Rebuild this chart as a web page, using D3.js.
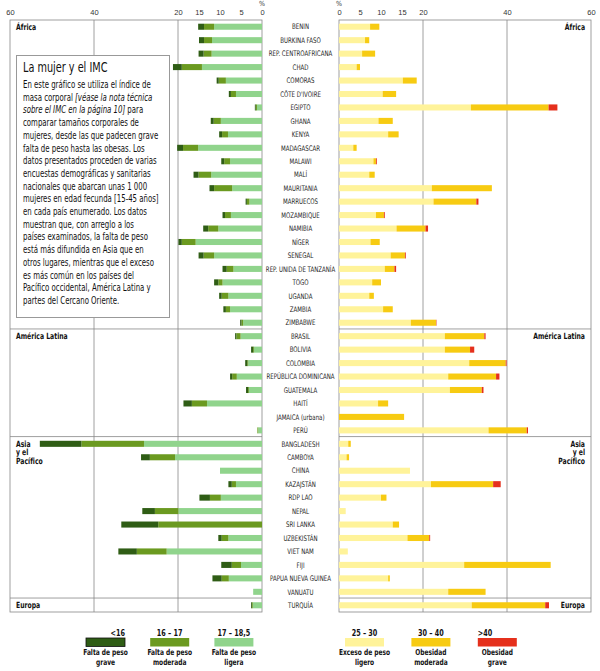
<!doctype html>
<html lang="es">
<head>
<meta charset="utf-8">
<title>La mujer y el IMC</title>
<style>
  body { margin: 0; background: #fff; }
  svg { display: block; font-family: "DejaVu Sans Condensed", "DejaVu Sans", sans-serif; }
  .tick text { fill: #333; font-size: 7.5px; }
</style>
</head>
<body>
<div id="chart"></div>
<script src="https://cdn.jsdelivr.net/npm/d3@7"></script>
<script>
// countries, top to bottom
var countries = ["BENIN","BURKINA FASO","REP. CENTROAFRICANA","CHAD","COMORAS","CÔTE D'IVOIRE","EGIPTO","GHANA","KENYA","MADAGASCAR","MALAWI","MALÍ","MAURITANIA","MARRUECOS","MOZAMBIQUE","NAMIBIA","NÍGER","SENEGAL","REP. UNIDA DE TANZANÍA","TOGO","UGANDA","ZAMBIA","ZIMBABWE",
  "BRASIL","BOLIVIA","COLOMBIA","REPÚBLICA DOMINICANA","GUATEMALA","HAITÍ","JAMAICA (urbana)","PERÚ",
  "BANGLADESH","CAMBOYA","CHINA","KAZAJSTÁN","RDP LAO","NEPAL","SRI LANKA","UZBEKISTÁN","VIET NAM","FIJI","PAPUA NUEVA GUINEA","VANUATU",
  "TURQUÍA"];
var regionNames = ["África","América Latina","Asia\ny el\nPacífico","Europa"];
var regionFirst = ["BENIN","BRASIL","BANGLADESH","TURQUÍA"];

// % of women, underweight (IMC <16, 16-17, 17-18.5)
var severe   = [1.4,1.2,1.2,2.1,0.5,0.5,0.2,0.7,0.7,1.4,0.7,1.2,1.1,0.3,0.6,1.2,0.8,1.2,1.0,1.0,0.6,0.6,0.3, 0.3,0.5,0.5,0.5,0.5,2.0,0,0, 9.9,2.1,0,0.8,2.5,3.0,8.8,0.8,4.4,2.5,2.2,0, 0.2];
var moderate = [2.4,1.9,1.9,4.8,1.7,1.2,0.3,1.7,1.4,3.6,1.4,3.0,4.3,0.6,1.4,2.4,3.3,2.5,1.6,1.0,1.6,1.0,0.4, 1.0,0.2,0.2,1.1,0.2,3.6,0,0.2, 14.9,6.0,0,1.0,2.6,5.6,24.7,1.6,7.1,2.2,1.7,0, 0.2];
var mild     = [11.4,11.9,12.0,14.3,8.6,6.2,1.2,9.8,8.1,15.2,7.6,12.1,7.1,3.0,7.4,10.4,15.8,11.4,6.8,9.4,8.0,7.6,4.5, 5.1,1.9,3.3,6.0,3.1,13.1,0,0.9, 28.1,20.7,10.0,6.2,9.8,19.9,0,8.0,22.7,5.0,7.9,2.1, 2.2];
// % of women, overweight (IMC 25-30, 30-40, >40)
var over     = [7.4,6.2,5.5,4.2,15.2,10.4,31.4,9.4,11.7,3.4,8.2,7.2,22.1,22.5,8.8,13.7,7.5,12.3,10.9,7.9,7.2,10.5,17.1, 25.2,25.2,31.0,26.0,26.4,9.3,0,35.6, 2.2,1.8,16.9,21.9,10.0,1.6,12.8,16.3,2.1,29.8,11.7,26.0, 31.6];
var obese    = [2.2,1.0,3.1,0.8,3.3,3.2,18.5,3.4,2.5,0.8,0.6,1.3,14.3,10.2,1.9,6.9,2.2,3.4,2.3,2.1,1.1,2.3,6.0, 9.4,6.0,8.7,11.4,7.6,2.4,15.5,9.1, 0.6,0.6,0,14.8,1.3,0,1.5,5.2,0,20.6,0.4,8.9, 17.5];
var obeseSev = [0,0,0,0,0,0,2.1,0,0,0,0.2,0,0,0.5,0.2,0.6,0,0.2,0.4,0,0,0,0.1, 0.3,1.0,0.2,0.8,0.4,0,0,0.3, 0,0,0,1.8,0,0,0,0.2,0,0,0,0, 0.9];

var leftTicks = [60,40,20,15,10,5,0];
var rightTicks = [0,5,10,15,20,40,60];
var gridTicks = [20,40];

var underKeys = ["severe","moderate","mild"];
var overKeys = ["over","obese","obeseSev"];
var underColors = ["#2f5d15","#6b9a20","#90d48c"];
var overColors = ["#fff39a","#f7cb12","#e5301c"];
var underLegend = [["<16","Falta de peso","grave"],["16  –  17","Falta de peso","moderada"],["17  –  18,5","Falta de peso","ligera"]];
var overLegend = [["25  –  30","Exceso de peso","ligero"],["30  –  40","Obesidad","moderada"],[">40","Obesidad","grave"]];

var introTitle = "La mujer y el IMC";
var introLines = [
  [["En este gráfico se utiliza el índice de", false]],
  [["masa corporal ", false], ["[véase la nota técnica", true]],
  [["sobre el IMC en la página 10]", true], [" para", false]],
  [["comparar tamaños corporales de", false]],
  [["mujeres, desde las que padecen grave", false]],
  [["falta de peso hasta las obesas. Los", false]],
  [["datos presentados proceden de varias", false]],
  [["encuestas demográficas y sanitarias", false]],
  [["nacionales que abarcan unas 1 000", false]],
  [["mujeres en edad fecunda [15-45 años]", false]],
  [["en cada país enumerado. Los datos", false]],
  [["muestran que, con arreglo a los", false]],
  [["países examinados, la falta de peso", false]],
  [["está más difundida en Asia que en", false]],
  [["otros lugares, mientras que el exceso", false]],
  [["es más común en los países del", false]],
  [["Pacífico occidental, América Latina y", false]],
  [["partes del Cercano Oriente.", false]]
];

var W = 600, H = 671;
var plotTop = 20, plotBottom = 612;
var squeeze = 0.8; // horizontal squeeze to imitate the condensed type

var rows = countries.map(function(c, i) {
  return {name: c, severe: severe[i], moderate: moderate[i], mild: mild[i],
          over: over[i], obese: obese[i], obeseSev: obeseSev[i]};
});

var svg = d3.select("#chart").append("svg").attr("width", W).attr("height", H);

var xl = d3.scaleLinear().domain([0, 60]).range([262, 10]);
var xr = d3.scaleLinear().domain([0, 60]).range([339, 591]);
var y = d3.scaleBand().domain(countries).range([plotTop, plotBottom]).paddingInner(0.55).paddingOuter(0.275);

// squeezed text helper
function ctext(parent, x, yy, anchor) {
  return parent.append("g").attr("transform", "translate(" + x + "," + yy + ") scale(" + squeeze + ",1)")
    .append("text").attr("text-anchor", anchor || "start");
}

// frames
[xl, xr].forEach(function(s) {
  var r = s.range();
  svg.append("rect")
    .attr("x", Math.min(r[0], r[1])).attr("y", plotTop)
    .attr("width", Math.abs(r[1] - r[0])).attr("height", plotBottom - plotTop)
    .attr("fill", "none").attr("stroke", "#888").attr("stroke-width", 0.8);
  svg.selectAll(null).data(gridTicks).enter().append("line")
    .attr("x1", function(d) { return s(d); }).attr("x2", function(d) { return s(d); })
    .attr("y1", plotTop).attr("y2", plotBottom)
    .attr("stroke", "#888").attr("stroke-width", 0.8);
  // region separators
  svg.selectAll(null).data(regionFirst.slice(1)).enter().append("line")
    .attr("x1", r[0]).attr("x2", r[1])
    .attr("y1", function(d) { return y(d) - y.step() * y.paddingInner() / 2 - 0.5; })
    .attr("y2", function(d) { return y(d) - y.step() * y.paddingInner() / 2 - 0.5; })
    .attr("stroke", "#888").attr("stroke-width", 0.8);
});

// axes on top
svg.append("g").attr("transform", "translate(0," + plotTop + ")")
  .call(d3.axisTop(xl).tickValues(leftTicks).tickSize(0).tickPadding(5));
svg.append("g").attr("transform", "translate(0," + plotTop + ")")
  .call(d3.axisTop(xr).tickValues(rightTicks).tickSize(0).tickPadding(5));
svg.selectAll(".domain").remove();
svg.append("text").attr("x", xl(0)).attr("y", 6).attr("text-anchor", "middle").attr("font-size", 7).attr("fill", "#333").text("%");
svg.append("text").attr("x", xr(0)).attr("y", 6).attr("text-anchor", "middle").attr("font-size", 7).attr("fill", "#333").text("%");

// underweight bars
var stackU = d3.stack().keys(["mild","moderate","severe"])(rows);
svg.append("g").selectAll("g").data(stackU).enter().append("g")
  .attr("fill", function(d) { return underColors[underKeys.indexOf(d.key)]; })
  .selectAll("rect").data(function(d) { return d; }).enter().append("rect")
  .attr("x", function(d) { return xl(d[1]); })
  .attr("width", function(d) { return xl(d[0]) - xl(d[1]); })
  .attr("y", function(d) { return y(d.data.name); })
  .attr("height", y.bandwidth());

// overweight bars
var stackO = d3.stack().keys(overKeys)(rows);
svg.append("g").selectAll("g").data(stackO).enter().append("g")
  .attr("fill", function(d) { return overColors[overKeys.indexOf(d.key)]; })
  .selectAll("rect").data(function(d) { return d; }).enter().append("rect")
  .attr("x", function(d) { return xr(d[0]); })
  .attr("width", function(d) { return xr(d[1]) - xr(d[0]); })
  .attr("y", function(d) { return y(d.data.name); })
  .attr("height", y.bandwidth());

// country labels
var labels = svg.append("g");
countries.forEach(function(c) {
  ctext(labels, (xl(0) + xr(0)) / 2, y(c) + y.bandwidth() / 2 + 2.7, "middle")
    .attr("font-size", 7.6).attr("fill", "#222").text(c);
});

// region labels, both sides
regionNames.forEach(function(name, i) {
  var y0 = y(regionFirst[i]) + y.bandwidth() / 2 + 3;
  var parts = name.split("\n");
  [["start", xl(60) + 6], ["end", xr(60) - 6]].forEach(function(side) {
    var t = ctext(svg, side[1], y0, side[0])
      .attr("font-size", 8.5).attr("font-weight", "bold").attr("fill", "#111");
    parts.forEach(function(p, k) {
      t.append("tspan").attr("x", 0).attr("dy", k ? 8.5 : 0).text(p);
    });
  });
});

// intro box
var box = svg.append("g");
box.append("rect").attr("x", 16.5).attr("y", 55.5).attr("width", 153).attr("height", 262)
  .attr("fill", "#fff").attr("stroke", "#999").attr("stroke-width", 1);
ctext(box, 23, 72).attr("font-size", 13.5).attr("fill", "#111").text(introTitle);
introLines.forEach(function(line, i) {
  var t = ctext(box, 23, 88 + i * 12.7).attr("font-size", 9.7).attr("fill", "#111");
  line.forEach(function(seg) {
    t.append("tspan").attr("font-style", seg[1] ? "italic" : "normal").text(seg[0]);
  });
});

// legend
var legY = 638;
function legend(items, colors, x0, step, anchors) {
  items.forEach(function(it, i) {
    var x = x0 + i * step, w = 39;
    svg.append("rect").attr("x", x).attr("y", legY).attr("width", w).attr("height", 8.5)
      .attr("fill", colors[i]).attr("stroke", i === 0 && colors === underColors ? "#111" : "none").attr("stroke-width", 0.8);
    var ax = anchors[i] === "end" ? x + w : anchors[i] === "start" ? x : x + w / 2;
    ctext(svg, ax, legY - 2.5, anchors[i])
      .attr("font-size", 9).attr("font-weight", "bold").attr("fill", "#111").text(it[0]);
    ctext(svg, x + w / 2, legY + 17, "middle")
      .attr("font-size", 8.2).attr("font-weight", "bold").attr("fill", "#111").text(it[1]);
    ctext(svg, x + w / 2, legY + 26.5, "middle")
      .attr("font-size", 8.2).attr("font-weight", "bold").attr("fill", "#111").text(it[2]);
  });
}
legend(underLegend, underColors, 86, 64.2, ["end","middle","middle"]);
legend(overLegend, overColors, 345, 66.4, ["middle","middle","start"]);
</script>
</body>
</html>
